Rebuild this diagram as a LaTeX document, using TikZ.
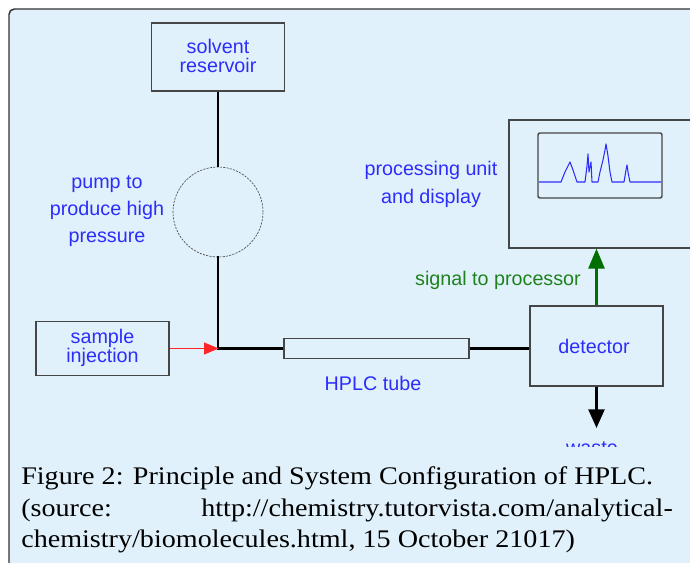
\documentclass[tikz,border=0pt]{standalone}
\usepackage{fontspec}
\setmainfont[FakeStretch=1.11]{Liberation Serif}
\newfontfamily\diagfont{Liberation Sans}
\usetikzlibrary{arrows.meta}
\definecolor{bgblue}{RGB}{224,241,251}
\definecolor{txtblue}{RGB}{45,45,250}
\definecolor{sigtext}{RGB}{30,130,30}
\definecolor{sigarrow}{RGB}{0,110,0}
\definecolor{framegray}{RGB}{50,50,50}
\definecolor{boxgray}{RGB}{70,70,70}
\begin{document}
\begin{tikzpicture}[x=0.75pt,y=-0.75pt,
  lbl/.style={text=txtblue, font=\diagfont\fontsize{14.8pt}{20pt}\selectfont, align=center, inner sep=0pt},
  unit/.style={draw=boxgray, line width=0.9pt, inner sep=0pt},
  pipe/.style={black, line width=1.9pt},
  captext/.style={font=\fontsize{19pt}{23pt}\selectfont, inner sep=0pt, text=black}]
\useasboundingbox (0,0) rectangle (690,563);
\begin{scope}
\clip (0,0) rectangle (690,563);
\draw[framegray, line width=1.1pt, fill=bgblue, rounded corners=4pt] (9,9) rectangle (720,600);

% units
\node[unit, minimum width=99.75pt, minimum height=51pt] (res) at (218,57) {};
\node[lbl, font=\diagfont\fontsize{14.8pt}{14.4pt}\selectfont] (reslbl) at (218,56) {solvent\\reservoir};
\node[draw=gray!60!black, circle, dash pattern=on 1.6pt off 0.9pt, line width=0.5pt, minimum size=67.5pt, inner sep=0pt] (pump) at (218,212) {};
\node[unit, minimum width=99.75pt, minimum height=40.5pt] (inj) at (102.5,348.5) {};
\node[lbl, font=\diagfont\fontsize{14.8pt}{14.6pt}\selectfont] (injlbl) at (102.5,348) {sample\\injection};
\node[unit, minimum width=138.75pt, minimum height=15pt] (tube) at (376.5,348.5) {};
\node[unit, minimum width=99.75pt, minimum height=60pt] (det) at (596.5,346) {};
\node[lbl] (detlbl) at (594,346) {detector};
\node[unit, minimum width=143.25pt, minimum height=96pt] (proc) at (604.5,184) {};
\node[draw=boxgray, line width=1.1pt, rounded corners=1.5pt, minimum width=93pt, minimum height=48.75pt, inner sep=0pt] (disp) at (600,165.5) {};
\draw[txtblue, line width=0.8pt, line join=round]
  (539,182) -- (561,182) -- (565,172) -- (570,162) -- (573,170) -- (577,182)
  -- (585,182) -- (587,166) -- (588,154) -- (589,172) -- (591,162) -- (592,182)
  -- (598,182) -- (600,172) -- (603,160) -- (605,150) -- (606,144) -- (608,156) -- (610,172) -- (612,182)
  -- (624,182) -- (626,170) -- (627,165) -- (628,172) -- (630,182) -- (661,182);

% labels
\node[lbl, font=\diagfont\fontsize{14.8pt}{20.3pt}\selectfont] (pumplbl) at (107,211) {pump to\\produce high\\pressure};
\node[lbl, font=\diagfont\fontsize{14.8pt}{21pt}\selectfont] (proclbl) at (431,184) {processing unit\\and display};
\node[lbl, text=sigtext] (siglbl) at (498,280) {signal to processor};
\node[lbl] (tubelbl) at (373,383) {HPLC tube};

% connectors
\coordinate (j) at (218,348.5);
\draw[pipe] (res.south) -- (pump.north);
\draw[pipe, line cap=rect] (pump.south) -- (j);
\draw[pipe] (j) -- (tube.west);
\draw[pipe] (tube.east) -- (tube.east -| det.west);
\draw[red!85!white, line width=0.8pt, -{Triangle[length=11pt, width=9pt]}, shorten >=-0.5pt] (inj.east) -- (j);
\draw[sigarrow, line width=1.9pt, -{Triangle[length=15pt, width=12pt]}] (det.north) -- (det.north |- proc.south);
\coordinate (wend) at (596.5,428);
\draw[pipe, -{Triangle[length=14pt, width=12pt]}] (det.south) -- (wend);

\begin{scope}
\clip (0,0) rectangle (690,446);
\node[lbl, anchor=base] (wastelbl) at (592,455) {waste};
\end{scope}

% caption
\node[captext, anchor=base west] (cap1) at (21,484) {Figure 2: Principle and System Configuration of HPLC.};
\node[captext, anchor=base west] (cap2a) at (21,516) {(source:};
\node[captext, anchor=base east] (cap2b) at (673,516) {http://chemistry.tutorvista.com/analytical-};
\node[captext, anchor=base west] (cap3) at (21,547) {chemistry/biomolecules.html, 15 October 21017)};
\end{scope}
\end{tikzpicture}
\end{document}
